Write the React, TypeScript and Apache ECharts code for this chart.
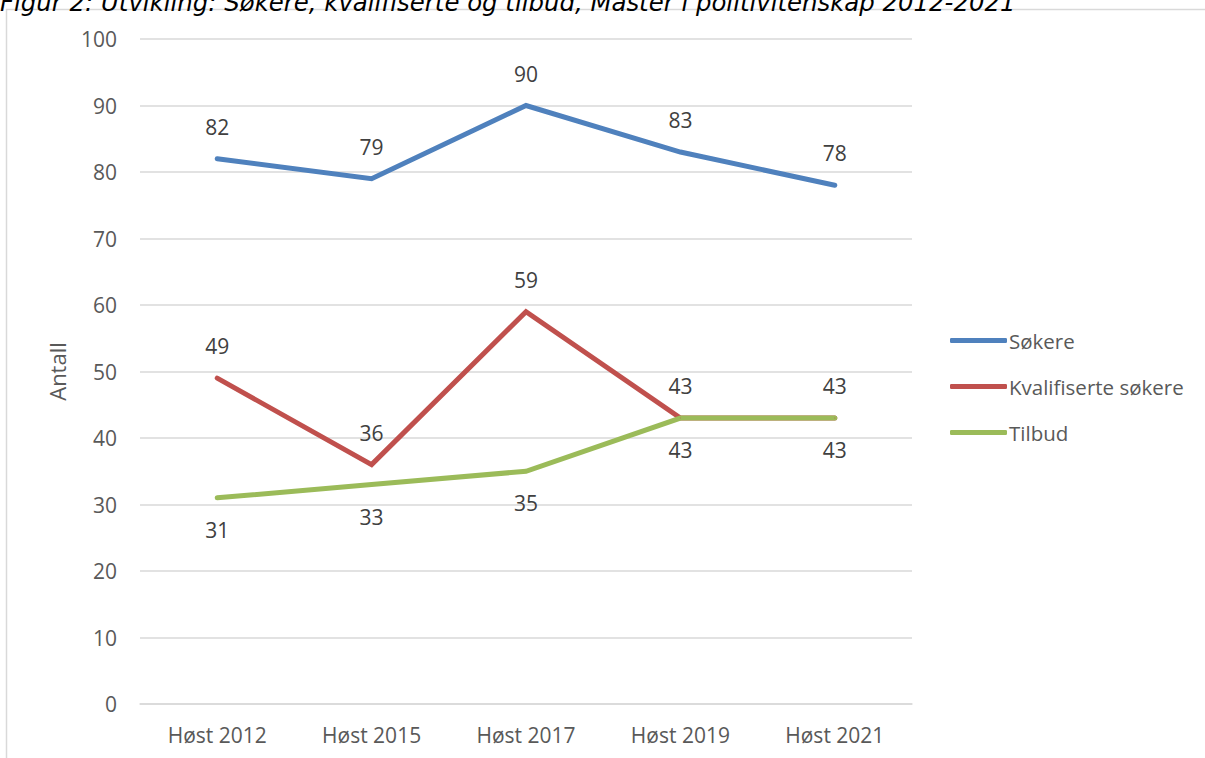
import React, { useEffect, useRef } from "react";
import * as echarts from "echarts";

const categories = ["Høst 2012", "Høst 2015", "Høst 2017", "Høst 2019", "Høst 2021"];
const sokere = [82, 79, 90, 83, 78];
const kvalifiserte = [49, 36, 59, 43, 43];
const tilbud = [31, 33, 35, 43, 43];
const seriesNames = ["Søkere", "Kvalifiserte søkere", "Tilbud"];
const titleText = "Figur 2: Utvikling: Søkere, kvalifiserte og tilbud, Master i politivitenskap 2012-2021";

const FONT = "'Open Sans', sans-serif";

export default function App() {
  const ref = useRef<HTMLDivElement>(null);
  useEffect(() => {
    if (!ref.current) return;
    const chart = echarts.init(ref.current, null, { renderer: "svg" });
    const mkSeries = (name: string, data: number[], color: string, pos: string) => ({
      name,
      type: "line",
      data,
      symbol: "circle",
      symbolSize: 1,
      itemStyle: { color },
      lineStyle: { color, width: 5, join: "miter", cap: "round" },
      label: {
        show: true,
        position: pos,
        distance: 21,
        fontFamily: FONT,
        fontSize: 21,
        color: "#404040",
      },
      emphasis: { disabled: true },
    });
    chart.setOption({
      animation: false,
      backgroundColor: "#ffffff",
      textStyle: { fontFamily: FONT },
      graphic: [
        {
          type: "rect",
          shape: { x: 6.5, y: 9.5, width: 1400, height: 1000 },
          style: { fill: "none", stroke: "#d9d9d9", lineWidth: 1.5 },
          silent: true,
        },
        {
          type: "text",
          x: 0,
          y: 14,
          style: {
            text: titleText,
            font: "italic 24.4px 'DejaVu Sans', Verdana, sans-serif",
            fill: "#000000",
            verticalAlign: "bottom",
          },
          silent: true,
        },
      ],
      grid: { left: 140, right: 293, top: 39, bottom: 54, containLabel: false },
      legend: {
        orient: "vertical",
        left: 945,
        top: 325,
        itemWidth: 57,
        itemHeight: 5,
        itemGap: 25,
        icon: "roundRect",
        data: seriesNames,
        textStyle: { fontFamily: FONT, fontSize: 20.5, color: "#595959", lineHeight: 20, padding: [0, 0, 0, -3] },
        selectedMode: false,
      },
      xAxis: {
        type: "category",
        data: categories,
        boundaryGap: true,
        axisLine: { show: true, lineStyle: { color: "#d9d9d9", width: 1.5 } },
        axisTick: { show: false },
        axisLabel: { fontFamily: FONT, fontSize: 21, color: "#595959", margin: 20 },
      },
      yAxis: {
        type: "value",
        min: 0,
        max: 100,
        interval: 10,
        name: "Antall",
        nameLocation: "middle",
        nameRotate: 90,
        nameGap: 72,
        nameTextStyle: { fontFamily: FONT, fontSize: 22, color: "#595959" },
        axisLine: { show: false },
        axisTick: { show: false },
        splitLine: { lineStyle: { color: "#d9d9d9", width: 1.5 } },
        axisLabel: { fontFamily: FONT, fontSize: 21, color: "#595959", margin: 23 },
      },
      series: [
        mkSeries(seriesNames[0], sokere, "#4F81BD", "top"),
        mkSeries(seriesNames[1], kvalifiserte, "#C0504D", "top"),
        mkSeries(seriesNames[2], tilbud, "#9BBB59", "bottom"),
      ],
    });
    return () => chart.dispose();
  }, []);
  return (
    <div
      ref={ref}
      style={{ position: "absolute", left: 0, top: 0, width: 1205, height: 758 }}
    />
  );
}
